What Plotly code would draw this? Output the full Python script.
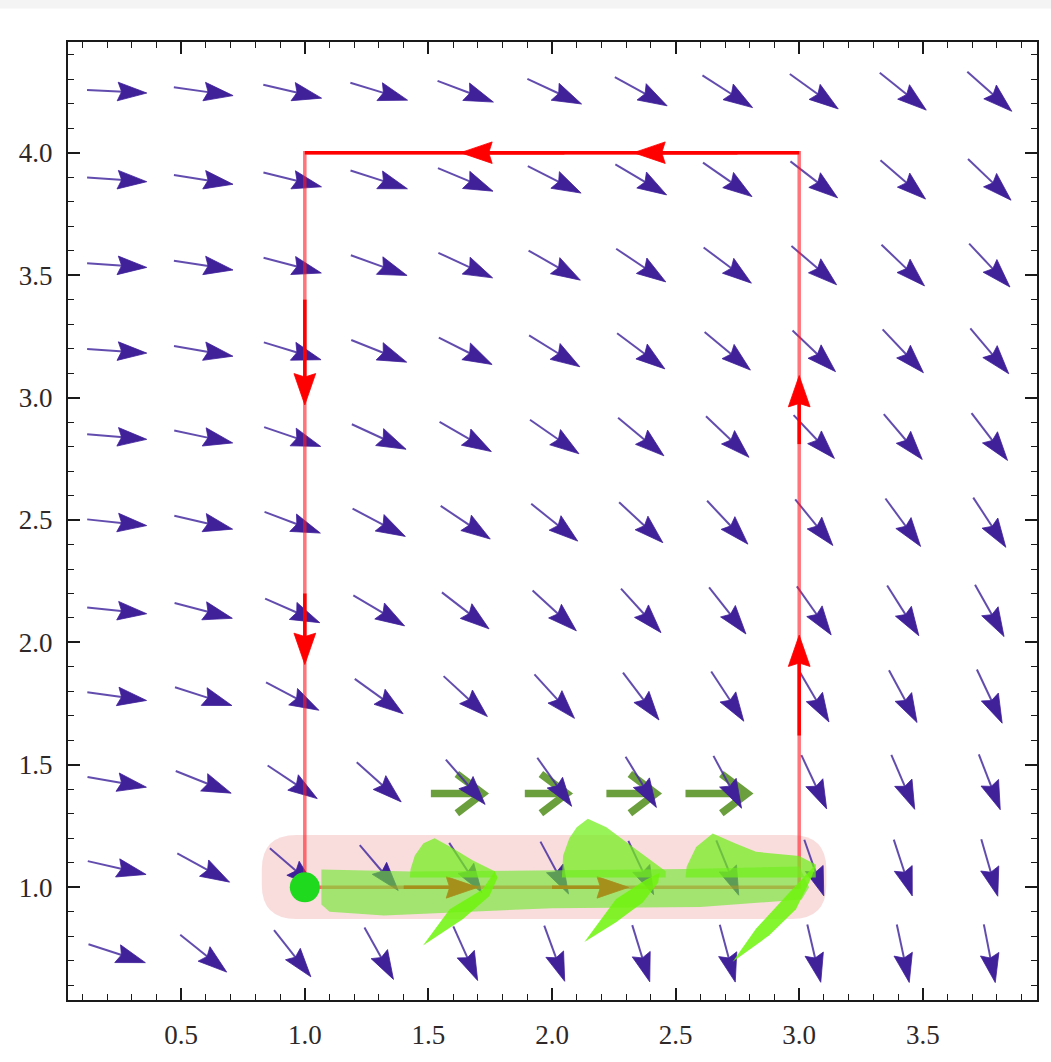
import math
import plotly.graph_objects as go

# ---------------- data ----------------
X_RANGE = [0.042, 3.962]
Y_RANGE = [0.540, 4.452]
x_ticks = [0.5, 1.0, 1.5, 2.0, 2.5, 3.0, 3.5]
y_ticks = [1.0, 1.5, 2.0, 2.5, 3.0, 3.5, 4.0]

# vector-field sample grid (arrow centres)
grid_x = [0.24, 0.59, 0.95, 1.30, 1.65, 2.01, 2.36, 2.71, 3.06, 3.42, 3.77]
grid_y = [4.25, 3.89, 3.54, 3.19, 2.84, 2.49, 2.13, 1.78, 1.43, 1.08, 0.73]
# arrow direction: degrees below horizontal (rows top->bottom, cols left->right)
field_angle = [
    [3, 8, 13, 17, 21, 25, 29, 33, 36, 39, 42],
    [4, 9, 14, 18, 23, 27, 31, 35, 38, 41, 44],
    [4, 9, 15, 20, 25, 30, 34, 37, 41, 44, 47],
    [4, 10, 17, 22, 27, 32, 37, 40, 44, 47, 50],
    [5, 12, 19, 25, 30, 35, 40, 44, 47, 50, 53],
    [6, 13, 21, 28, 34, 39, 43, 47, 51, 54, 57],
    [6, 15, 24, 31, 38, 43, 48, 52, 55, 58, 61],
    [8, 18, 28, 36, 43, 48, 53, 57, 60, 62, 65],
    [10, 22, 34, 42, 49, 55, 59, 62, 65, 67, 69],
    [13, 29, 41, 50, 57, 62, 65, 68, 71, 72, 74],
    [18, 39, 52, 61, 66, 70, 73, 75, 77, 78, 79],
]

# red circuit
path_x = [1, 3, 3, 1, 1]
path_y = [1, 1, 4, 4, 1]
red_tail_x = [2.75, 2.05, 1.0, 1.0, 3.0, 3.0, 1.40, 2.00]
red_tail_y = [4.0, 4.0, 3.40, 2.20, 2.81, 1.62, 1.0, 1.0]
red_tip_x = [2.33, 1.63, 1.0, 1.0, 3.0, 3.0, 1.70, 2.31]
red_tip_y = [4.0, 4.0, 2.97, 1.91, 3.09, 2.03, 1.0, 1.0]

# start point
start_x = [1.0]
start_y = [1.0]

# green arrows above the bottom edge
green_tail_x = [1.51, 1.89, 2.22, 2.54]
green_tip_x = [1.72, 2.06, 2.42, 2.79]
green_arrow_y = 1.383

# highlight band around bottom edge
band_x = [0.826, 3.110]
band_y = [0.871, 1.214]

# green swept shapes
sweep_band_x = [1.067, 1.43, 2.04, 2.54, 3.00, 3.04, 3.01, 2.60, 2.00, 1.32, 1.10, 1.067]
sweep_band_y = [1.073, 1.065, 1.07, 1.075, 1.085, 1.00, 0.95, 0.92, 0.915, 0.885, 0.90, 0.93]
fin_up_x = [
    [1.425, 1.428, 1.445, 1.480, 1.525, 1.590, 1.680, 1.770, 1.770],
    [2.040, 2.045, 2.070, 2.100, 2.145, 2.220, 2.320, 2.400, 2.460, 2.460],
    [2.540, 2.545, 2.583, 2.650, 2.740, 2.825, 3.000, 3.067, 3.067],
]
fin_up_y = [
    [1.04, 1.075, 1.13, 1.18, 1.20, 1.165, 1.11, 1.065, 1.04],
    [1.04, 1.13, 1.20, 1.245, 1.28, 1.245, 1.17, 1.11, 1.066, 1.04],
    [1.04, 1.085, 1.165, 1.22, 1.18, 1.145, 1.128, 1.093, 1.04],
]
fin_low_x = [
    [1.478, 1.586, 1.720, 1.768, 1.780, 1.747, 1.640],
    [2.131, 2.259, 2.381, 2.434, 2.430, 2.367, 2.259],
    [2.731, 2.825, 2.960, 3.067, 3.050, 2.987, 2.879],
]
fin_low_y = [
    [0.763, 0.911, 0.992, 1.066, 1.040, 0.965, 0.871],
    [0.777, 0.952, 1.032, 1.059, 1.020, 0.938, 0.858],
    [0.696, 0.831, 0.979, 1.093, 1.040, 0.911, 0.804],
]

# ---------------- styles ----------------
FIELD_LEN = 0.242
FIELD_HEAD_LEN = 0.118
FIELD_HEAD_HW = 0.038
RED_HEAD_LEN = 0.128
RED_HEAD_HW = 0.044
INDIGO = "#40219a"
INDIGO_SHAFT = "rgba(70,45,160,0.85)"


def head_poly(tx, ty, ux, uy, length, hw, notch):
    nx, ny = -uy, ux
    bx, by = tx - ux * length, ty - uy * length
    mx, my = tx - ux * (length - notch), ty - uy * (length - notch)
    return ([tx, bx + nx * hw, mx, bx - nx * hw, tx, None],
            [ty, by + ny * hw, my, by - ny * hw, ty, None])


fig = go.Figure()

# green arrows
gx, gy = [], []
for t0, t1 in zip(green_tail_x, green_tip_x):
    gx += [t0, t1 - 0.01, None, t1 - 0.105, t1, t1 - 0.105, None]
    gy += [green_arrow_y, green_arrow_y, None,
           green_arrow_y + 0.08, green_arrow_y, green_arrow_y - 0.08, None]
fig.add_trace(go.Scatter(x=gx, y=gy, mode="lines",
                         line=dict(color="#6b9f3d", width=7.5)))

# vector field
sx, sy, hx, hy = [], [], [], []
for r, yc in enumerate(grid_y):
    for c, xc in enumerate(grid_x):
        a = math.radians(field_angle[r][c])
        ux, uy = math.cos(a), -math.sin(a)
        tx, ty = xc + ux * FIELD_LEN / 2, yc + uy * FIELD_LEN / 2
        bx, by = xc - ux * FIELD_LEN / 2, yc - uy * FIELD_LEN / 2
        ex, ey = tx - ux * FIELD_HEAD_LEN * 0.8, ty - uy * FIELD_HEAD_LEN * 0.8
        sx += [bx, ex, None]
        sy += [by, ey, None]
        px, py = head_poly(tx, ty, ux, uy, FIELD_HEAD_LEN, FIELD_HEAD_HW, 0.016)
        hx += px
        hy += py
fig.add_trace(go.Scatter(x=sx, y=sy, mode="lines",
                         line=dict(color=INDIGO_SHAFT, width=2)))
fig.add_trace(go.Scatter(x=hx, y=hy, mode="lines", fill="toself",
                         fillcolor=INDIGO, line=dict(width=0.8, color=INDIGO)))

# red circuit
fig.add_trace(go.Scatter(x=path_x, y=path_y, mode="lines",
                         line=dict(color="rgba(255,25,35,0.6)", width=3.5)))
fig.add_trace(go.Scatter(x=path_x[2:4], y=path_y[2:4], mode="lines",
                         line=dict(color="#ff0000", width=3.5)))
rsx, rsy, rhx, rhy = [], [], [], []
for x0, y0, x1, y1 in zip(red_tail_x, red_tail_y, red_tip_x, red_tip_y):
    L = math.hypot(x1 - x0, y1 - y0)
    ux, uy = (x1 - x0) / L, (y1 - y0) / L
    rsx += [x0, x1 - ux * RED_HEAD_LEN * 0.7, None]
    rsy += [y0, y1 - uy * RED_HEAD_LEN * 0.7, None]
    px, py = head_poly(x1, y1, ux, uy, RED_HEAD_LEN, RED_HEAD_HW, 0.014)
    rhx += px
    rhy += py
fig.add_trace(go.Scatter(x=rsx, y=rsy, mode="lines",
                         line=dict(color="#ff0000", width=3.5)))
fig.add_trace(go.Scatter(x=rhx, y=rhy, mode="lines", fill="toself",
                         fillcolor="#ff0000", line=dict(width=0.8, color="#ff0000")))

# green swept shapes
fig.add_trace(go.Scatter(x=sweep_band_x, y=sweep_band_y, mode="lines", fill="toself",
                         fillcolor="rgba(110,232,45,0.62)", line=dict(width=0)))
for fx, fy in zip(fin_up_x, fin_up_y):
    fig.add_trace(go.Scatter(x=fx, y=fy, mode="lines", fill="toself",
                             fillcolor="rgba(112,238,25,0.72)", line=dict(width=0)))
for fx, fy in zip(fin_low_x, fin_low_y):
    fig.add_trace(go.Scatter(x=fx, y=fy, mode="lines", fill="toself",
                             fillcolor="rgba(110,245,10,0.85)", line=dict(width=0)))

# start dot
fig.add_trace(go.Scatter(x=start_x, y=start_y, mode="markers",
                         marker=dict(size=30, color="#1ed91e", line=dict(width=0))))

# pink highlight (rounded)
x0, x1 = band_x
y0, y1 = band_y
rr = 0.14
pill = (f"M {x0+rr},{y0} L {x1-rr},{y0} Q {x1},{y0} {x1},{y0+rr} "
        f"L {x1},{y1-rr} Q {x1},{y1} {x1-rr},{y1} L {x0+rr},{y1} "
        f"Q {x0},{y1} {x0},{y1-rr} L {x0},{y0+rr} Q {x0},{y0} {x0+rr},{y0} Z")
fig.add_shape(type="path", path=pill, xref="x", yref="y", layer="below",
              fillcolor="#f9dddd", line=dict(width=0))

# light grey strip at the top of the page
fig.add_shape(type="rect", xref="paper", yref="paper", x0=-0.08, x1=1.02,
              y0=1.035, y1=1.06, fillcolor="#f4f4f4", line=dict(width=0),
              layer="below")

axis_common = dict(
    showline=True, linecolor="#1a1a1a", linewidth=2, mirror="allticks",
    ticks="inside", ticklen=12, tickwidth=1.5, tickcolor="#1a1a1a",
    showgrid=False, zeroline=False, tickformat=".1f",
    tickfont=dict(family="Liberation Serif", size=27, color="#2e2828"),
    minor=dict(ticks="inside", ticklen=6, tickwidth=1.2, tickcolor="#1a1a1a",
               dtick=0.1, showgrid=False),
)
fig.update_layout(
    width=1051, height=1062,
    margin=dict(l=68, r=13, t=42, b=50),
    paper_bgcolor="white", plot_bgcolor="white",
    showlegend=False, hovermode=False,
    xaxis=dict(range=X_RANGE, tickvals=x_ticks, ticklabelstandoff=10, **axis_common),
    yaxis=dict(range=Y_RANGE, tickvals=y_ticks, ticklabelstandoff=8, **axis_common),
)
fig.write_html("out.html")
